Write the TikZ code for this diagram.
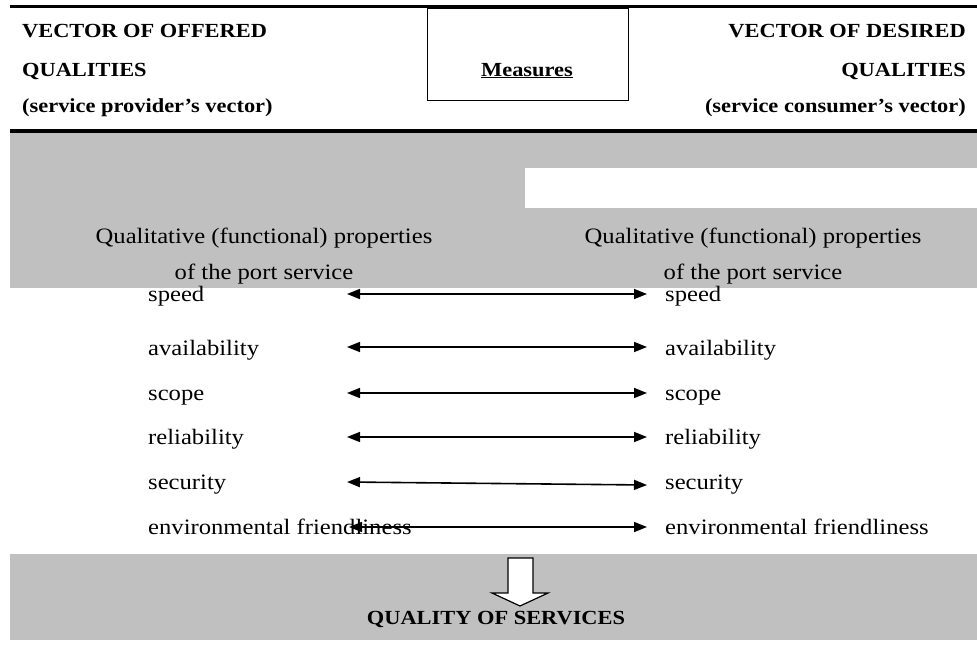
\documentclass[tikz,border=0pt]{standalone}
\usepackage{fontspec}
\setmainfont{Liberation Serif}[FakeStretch=1.12]
\usepackage{tikz}
\usetikzlibrary{
  positioning,
  arrows.meta
}
\definecolor{bandgray}{RGB}{192,192,192}

\begin{document}
\begin{tikzpicture}[x=1pt,y=-1pt,>={Triangle[length=13pt,width=10pt]},
    every node/.style={font=\fontsize{22}{26}\selectfont, inner sep=0pt},
    head/.style={font=\fontsize{20}{24}\selectfont\bfseries},
    item/.style={anchor=base west},
    pair/.style={<->, line width=1.6pt}]
    \useasboundingbox (0,0) rectangle (977,646);
    % grey bands
    \fill[bandgray] (10,132) rectangle (977,288);
    \fill[white] (525,168) rectangle (977,208);
    \fill[bandgray] (10,554) rectangle (977,640);
    \draw[line width=3pt] (10,6) -- (977,6);
    \draw[line width=4pt] (10,131) -- (977,131);

    % header
    \node[head,anchor=base west] (offA) at (22,37) {VECTOR OF OFFERED};
    \node[head,anchor=base west] (offB) at (22,76) {QUALITIES};
    \node[head,anchor=base west] (offC) at (22,112) {(service provider’s vector)};
    \node[draw,line width=1pt,minimum width=201pt,minimum height=92pt] (mbox) at (527.5,54) {};
    \node[head,anchor=base] (meas) at (527,76) {\underline{Measures}};
    \node[head,anchor=base east] (desA) at (966,37) {VECTOR OF DESIRED};
    \node[head,anchor=base east] (desB) at (966,76) {QUALITIES};
    \node[head,anchor=base east] (desC) at (966,112) {(service consumer’s vector)};

    \node[anchor=base] (qlA) at (264,243) {Qualitative (functional) properties};
    \node[anchor=base] (qlB) at (264,279) {of the port service};
    \node[anchor=base] (qrA) at (753,243) {Qualitative (functional) properties};
    \node[anchor=base] (qrB) at (753,279) {of the port service};

    % offered qualities
    \node[item] (lspeed) at (148,301) {speed};
    \node[item] (lavail) at (148,355) {availability};
    \node[item] (lscope) at (148,400) {scope};
    \node[item] (lrel) at (148,444) {reliability};
    \node[item] (lsec) at (148,489) {security};
    \node[item] (lenv) at (148,534) {environmental friendliness};
    % desired qualities
    \node[item] (rspeed) at (665,301) {speed};
    \node[item] (ravail) at (665,355) {availability};
    \node[item] (rscope) at (665,400) {scope};
    \node[item] (rrel) at (665,444) {reliability};
    \node[item] (rsec) at (665,489) {security};
    \node[item] (renv) at (665,534) {environmental friendliness};

    \coordinate (a1) at (347,294); \coordinate (b1) at (647,294);
    \coordinate (a2) at (347,347); \coordinate (b2) at (647,347);
    \coordinate (a3) at (347,393); \coordinate (b3) at (647,393);
    \coordinate (a4) at (347,437); \coordinate (b4) at (647,437);
    \coordinate (a5) at (347,482); \coordinate (b5) at (647,485);
    \coordinate (a6) at (349,527); \coordinate (b6) at (647,527);
    \draw[pair] (a1) -- (b1);
    \draw[pair] (a2) -- (b2);
    \draw[pair] (a3) -- (b3);
    \draw[pair] (a4) -- (b4);
    \draw[pair] (a5) -- (b5);
    \draw[pair] (a6) -- (b6);

    % result
    \draw[fill=white,line width=1.2pt] (508,558) -- (533,558) -- (533,593) -- (548,593)
      -- (520,606) -- (492,593) -- (508,593) -- cycle;
    \node[head,anchor=base] (qos) at (496,624) {QUALITY OF SERVICES};
\end{tikzpicture}
\end{document}
